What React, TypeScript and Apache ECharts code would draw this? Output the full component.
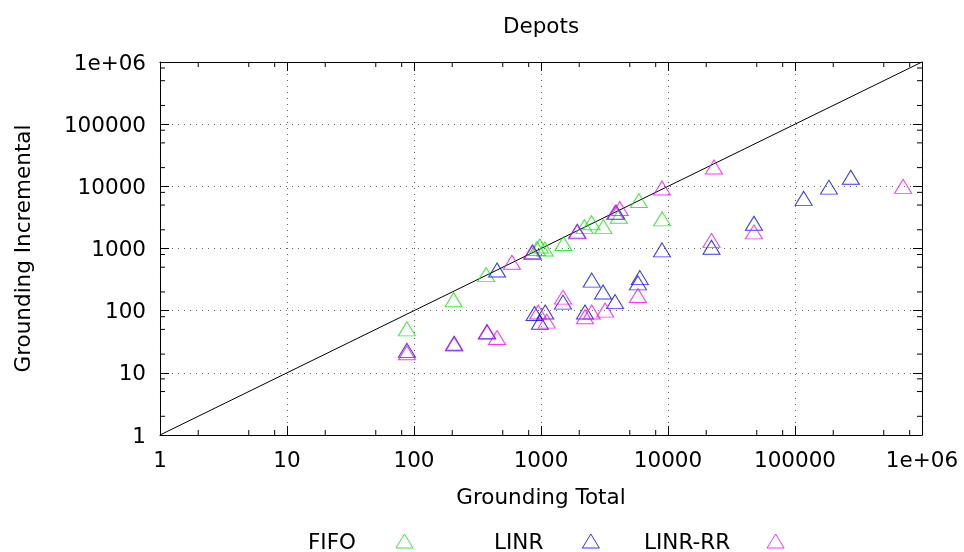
import React, { useEffect, useRef } from "react";
import * as echarts from "echarts";

const titleText = "Depots";
const xAxisName = "Grounding Total";
const yAxisName = "Grounding Incremental";
const tickLabels = ["1", "10", "100", "1000", "10000", "100000", "1e+06"];
const minorTickFactors = [2, 5, 8];
const diagonalX = [1, 1e6];
const diagonalY = [1, 1e6];

const seriesNames = ["FIFO", "LINR", "LINR-RR"];
const seriesColors = ["#00f000", "#0000ff", "#ff00ff"];

const fifoX = [88, 205, 370, 930, 980, 1070, 1500, 2200, 2500, 3100, 4100, 5900, 9000];
const fifoY = [51, 150, 380, 1000, 1100, 980, 1200, 2250, 2600, 2250, 3300, 5900, 3000];

const linrX = [88, 207, 376, 451, 860, 890, 1080, 980, 1490, 1930, 2220, 2510, 3080, 3830, 3900, 5800, 6000, 8970, 22000, 47500, 117000, 185000, 275000];
const linrY = [23, 30, 46, 450, 880, 90, 95, 65, 137, 1900, 95, 310, 200, 140, 3850, 280, 340, 950, 1050, 2550, 6400, 9700, 14000];

const linrRrX = [88, 207, 376, 451, 590, 850, 950, 1110, 1490, 1930, 2220, 2510, 3200, 3830, 4170, 5800, 8970, 22000, 23000, 47500, 710000];
const linrRrY = [21, 29, 45, 37, 600, 870, 95, 68, 165, 1850, 80, 95, 102, 3800, 4400, 175, 9400, 1350, 20500, 1850, 10000];

const zip = (xs: number[], ys: number[]) => xs.map((x, i) => [x, ys[i]]);

export default function App() {
  const ref = useRef<HTMLDivElement>(null);
  useEffect(() => {
    const chart = echarts.init(ref.current!, null, { renderer: "svg" });
    const font = "DejaVu Sans";
    const fs = 21.5;
    const fmt = (v: number) => tickLabels[Math.round(Math.log10(v))] ?? String(v);
    const split = { show: true, lineStyle: { color: "#666", width: 1.1, type: [1, 5] } };
    const baseAxis = {
      type: "log",
      logBase: 10,
      min: 1,
      max: 1e6,
      axisLine: { show: true, onZero: false, lineStyle: { color: "#000", width: 1 } },
      axisTick: { show: true, inside: true, length: 9, lineStyle: { color: "#000" } },
      minorTick: { show: false },
    };
    const datasets = [zip(fifoX, fifoY), zip(linrX, linrY), zip(linrRrX, linrRrY)];
    const legendLeft = [308, 494, 644];
    const legendPad = [35, 34, 32];
    chart.setOption({
      animation: false,
      title: {
        text: titleText,
        left: 541,
        top: 14,
        padding: 0,
        textAlign: "center",
        textStyle: { fontFamily: font, fontSize: fs, fontWeight: "normal", color: "#000" },
      },
      legend: seriesNames.map((n, i) => ({
        data: [
          {
            name: n,
            icon: "triangle",
            itemStyle: { color: "rgba(0,0,0,0)", borderColor: seriesColors[i], borderWidth: 1 },
          },
        ],
        left: legendLeft[i],
        top: 530,
        padding: 0,
        align: "right",
        itemWidth: 17,
        itemHeight: 14,
        selectedMode: false,
        textStyle: { fontFamily: font, fontSize: fs, color: "#000", padding: [0, legendPad[i], 0, 0] },
      })),
      grid: { left: 160, right: 42, top: 62, bottom: 117 },
      xAxis: [
        {
          ...baseAxis,
          position: "bottom",
          name: xAxisName,
          nameLocation: "middle",
          nameGap: 50,
          nameTextStyle: { fontFamily: font, fontSize: fs, color: "#000" },
          axisLabel: { fontFamily: font, fontSize: fs, color: "#000", margin: 13, formatter: fmt },
          splitLine: split,
        },
        {
          ...baseAxis,
          position: "top",
          axisLabel: { show: false },
          splitLine: { show: false },
        },
      ],
      yAxis: [
        {
          ...baseAxis,
          position: "left",
          name: yAxisName,
          nameLocation: "middle",
          nameGap: 127,
          nameTextStyle: { fontFamily: font, fontSize: fs, color: "#000" },
          axisLabel: { fontFamily: font, fontSize: fs, color: "#000", margin: 14, formatter: fmt },
          splitLine: split,
        },
        {
          ...baseAxis,
          position: "right",
          axisLabel: { show: false },
          splitLine: { show: false },
        },
      ],
      series: [
        {
          type: "line",
          name: "diagonal",
          data: zip(diagonalX, diagonalY),
          showSymbol: false,
          symbol: "none",
          silent: true,
          lineStyle: { color: "#000", width: 1 },
          xAxisIndex: 0,
          yAxisIndex: 0,
          z: 1,
        },
        ...seriesNames.map((n, i) => ({
          type: "scatter",
          name: n,
          data: datasets[i],
          symbol: "triangle",
          symbolSize: [17, 14],
          xAxisIndex: 0,
          yAxisIndex: 0,
          itemStyle: { color: "rgba(0,0,0,0)", borderColor: seriesColors[i], borderWidth: 1 },
          emphasis: { disabled: true },
          z: 2 + i,
        })),
      ],
    });

    // minor ticks at positions computed through the axes' log scales
    const graphics: any[] = [];
    const [xl, yb] = chart.convertToPixel({ gridIndex: 0 }, [1, 1]) as number[];
    const [xr, yt] = chart.convertToPixel({ gridIndex: 0 }, [1e6, 1e6]) as number[];
    const len = 5;
    for (let d = 0; d < 6; d++) {
      for (const f of minorTickFactors) {
        const v = f * Math.pow(10, d);
        const [px, py] = chart.convertToPixel({ gridIndex: 0 }, [v, v]) as number[];
        const st = { stroke: "#000", lineWidth: 1 };
        graphics.push({ type: "line", shape: { x1: px, y1: yb, x2: px, y2: yb - len }, style: st, silent: true });
        graphics.push({ type: "line", shape: { x1: px, y1: yt, x2: px, y2: yt + len }, style: st, silent: true });
        graphics.push({ type: "line", shape: { x1: xl, y1: py, x2: xl + len, y2: py }, style: st, silent: true });
        graphics.push({ type: "line", shape: { x1: xr, y1: py, x2: xr - len, y2: py }, style: st, silent: true });
      }
    }
    chart.setOption({ graphic: graphics });
    return () => chart.dispose();
  }, []);
  return <div ref={ref} style={{ position: "fixed", left: 0, top: 0, width: 964, height: 552 }} />;
}
